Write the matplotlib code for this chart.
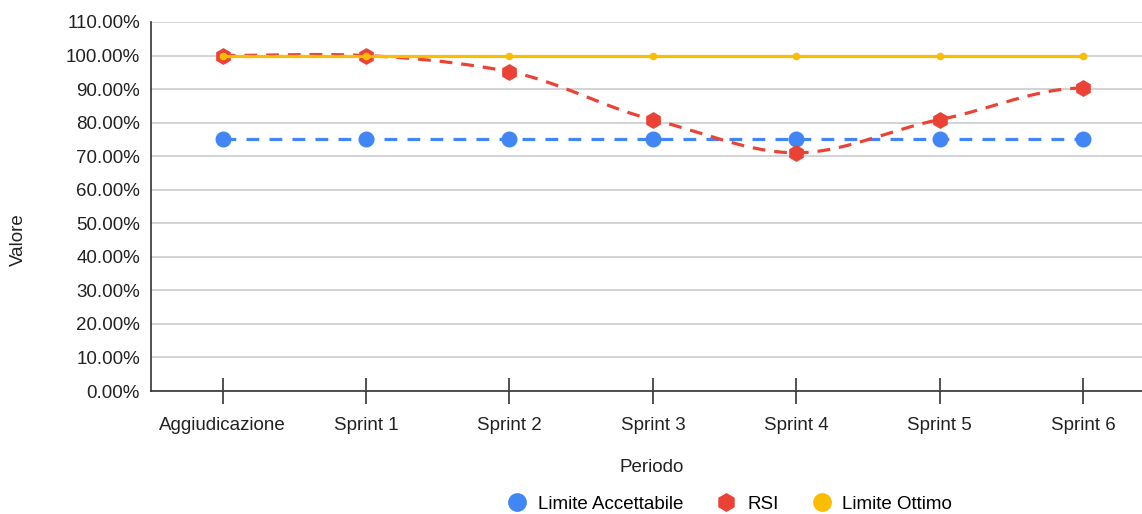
import numpy as np
import matplotlib
matplotlib.use("Agg")
import matplotlib.pyplot as plt
from matplotlib.ticker import FuncFormatter

plt.rcParams['font.family'] = ['Liberation Sans', 'DejaVu Sans']

categories = ["Aggiudicazione", "Sprint 1", "Sprint 2", "Sprint 3", "Sprint 4", "Sprint 5", "Sprint 6"]
limite_accettabile = [75, 75, 75, 75, 75, 75, 75]
rsi = [100, 100, 95.2, 80.9, 71.0, 80.9, 90.3]
limite_ottimo = [100, 100, 100, 100, 100, 100, 100]

BLUE = "#4285F4"
RED = "#EA4335"
YELLOW = "#FBBC04"


def smooth(xs, ys, n=30, k=0.85):
    xs = np.asarray(xs, float)
    ys = np.asarray(ys, float)
    m = np.zeros_like(ys)
    m[1:-1] = k * (ys[2:] - ys[:-2]) / (xs[2:] - xs[:-2])
    outx, outy = [], []
    for i in range(len(xs) - 1):
        t = np.linspace(0, 1, n, endpoint=(i == len(xs) - 2))
        h = xs[i + 1] - xs[i]
        h00 = 2 * t**3 - 3 * t**2 + 1
        h10 = t**3 - 2 * t**2 + t
        h01 = -2 * t**3 + 3 * t**2
        h11 = t**3 - t**2
        outx.append(xs[i] + t * h)
        outy.append(h00 * ys[i] + h10 * h * m[i] + h01 * ys[i + 1] + h11 * h * m[i + 1])
    return np.concatenate(outx), np.concatenate(outy)


fig = plt.figure(figsize=(11.42, 5.14), dpi=100)
W, H = 1142, 514
ax = fig.add_axes([151 / W, 1 - 391 / H, (1142 - 151) / W, (391 - 22) / H])

x = np.arange(len(categories))
fs = 13.5

ax.plot(x, limite_accettabile, color=BLUE, lw=2.3, dashes=(4, 3.2), marker='o', ms=10.5,
        label="Limite Accettabile", zorder=3)
sx, sy = smooth(x, rsi)
ax.plot(sx, sy, color=RED, lw=2.3, dashes=(4, 2.8), zorder=4)
ax.plot(x, rsi, color=RED, lw=0, marker='h', ms=11, zorder=4)
ax.plot([], [], color=RED, lw=0, marker='h', ms=11, label="RSI")
ax.plot(x, limite_ottimo, color=YELLOW, lw=2.3, marker='o', ms=4.5, zorder=5,
        label="Limite Ottimo")

ax.set_xlim(-0.5, 6 + (1142 - 1083) / 143.3)
ax.set_ylim(0, 110)
ax.set_yticks(np.arange(0, 111, 10))
ax.yaxis.set_major_formatter(FuncFormatter(lambda v, p: f"{v:.2f}%"))
ax.set_xticks(x)
ax.set_xticklabels(categories)
ax.grid(axis='y', color='#cccccc', lw=1.2)
ax.set_axisbelow(True)
for s in ['top', 'right']:
    ax.spines[s].set_visible(False)
ax.spines['left'].set_color('#333333')
ax.spines['bottom'].set_color('#333333')
ax.spines['left'].set_linewidth(1.2)
ax.spines['bottom'].set_linewidth(1.2)
ax.tick_params(axis='y', length=0, labelsize=fs, pad=8, labelcolor='#222222')
ax.tick_params(axis='x', direction='inout', length=19, width=1.2, color='#333333',
               labelsize=fs, pad=9, labelcolor='#222222')

fig.text(18 / W, 1 - 240 / H, "Valore", rotation=90, ha='center', va='center',
         fontsize=fs, color='#222222')
fig.text(652 / W, 1 - 467 / H, "Periodo", ha='center', va='center', fontsize=fs,
         color='#222222')

leg = fig.legend(loc='center', bbox_to_anchor=(730 / W, 1 - 504 / H), ncol=3,
                 frameon=False, fontsize=fs, handlelength=1.0, handletextpad=0.6,
                 columnspacing=1.8, borderaxespad=0)
for h in leg.legend_handles:
    h.set_linestyle('none')
    h.set_markersize(12.5)

fig.savefig("out.png", dpi=100)
